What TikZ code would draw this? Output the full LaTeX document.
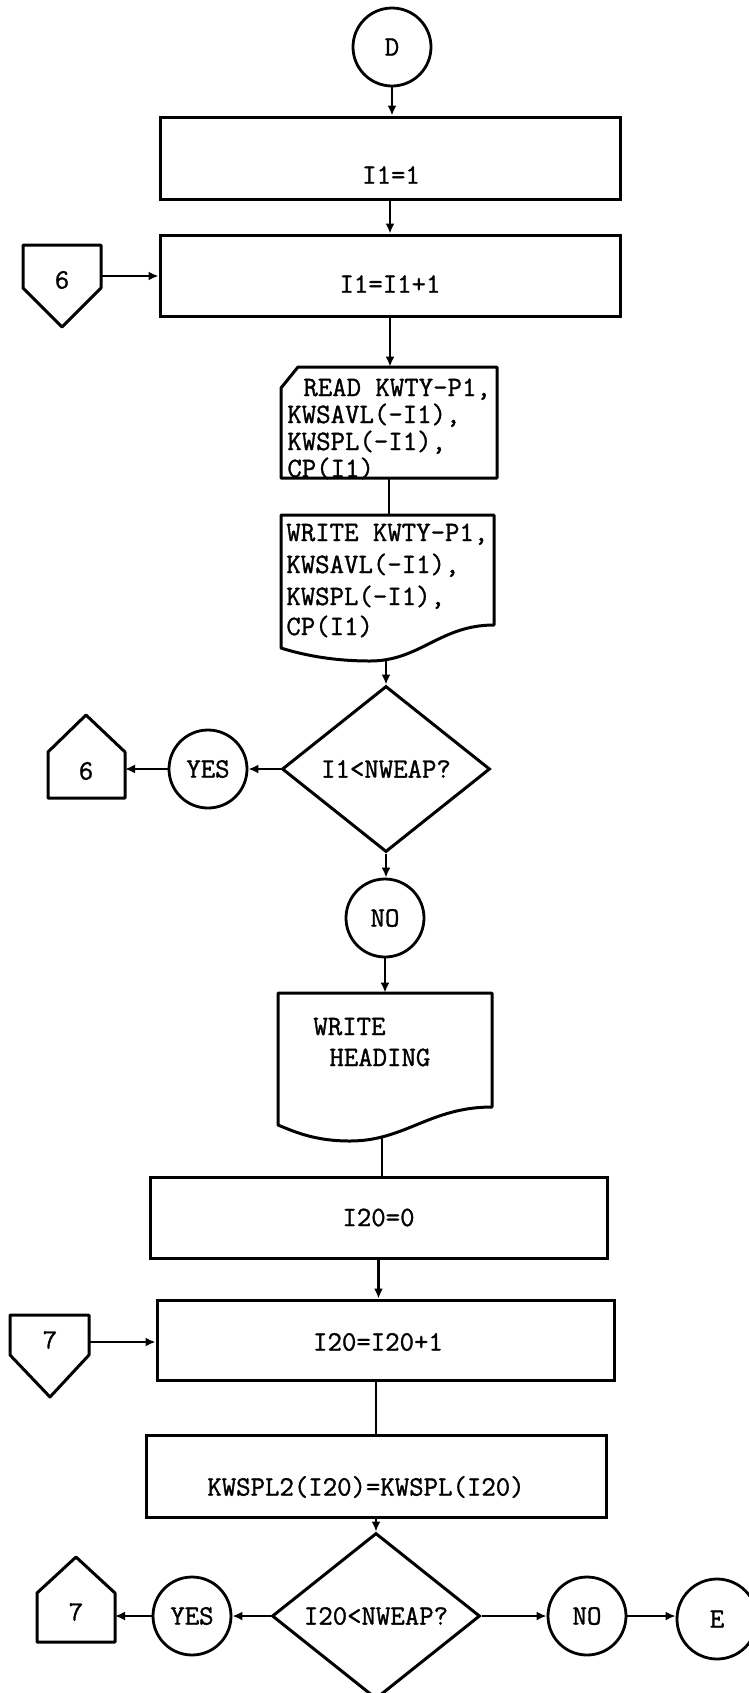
\documentclass[tikz,border=0pt]{standalone}
\usepackage{fontspec}
\newfontfamily\flowfont{Latin Modern Mono}[FakeBold=1.2]
\usetikzlibrary{arrows.meta,shapes.geometric}
\begin{document}
\begin{tikzpicture}[x=0.5pt,y=-0.5pt]
\tikzset{
  lbl/.style={font=\fontsize{14}{16}\selectfont\flowfont, inner sep=0pt},
  box/.style={draw, rectangle, line width=1.5pt, inner sep=0pt, minimum height=41pt, lbl},
  conn/.style={draw, circle, line width=1.4pt, inner sep=0pt, minimum size=39pt, lbl},
  dec/.style={draw, diamond, aspect=1.25, line width=1.5pt, inner sep=0pt, minimum width=104pt, minimum height=83pt, lbl},
  hold/.style={rectangle, inner sep=0pt},
  outline/.style={line width=1.5pt, line join=round},
  flow/.style={line width=1.4pt, -{Latex[length=5pt,width=4.5pt]}},
  plain/.style={line width=1.4pt},
}
\useasboundingbox (0,0) rectangle (749,1693);

% start connector
\node[conn] (D) at (392,47) {D};

% I1=1
\node[box, minimum width=230pt] (b1) at (390,158) {};
\node[lbl] (t1) at (391,175) {I1=1};

% I1=I1+1
\node[box, minimum width=230pt, minimum height=40.5pt] (b2) at (390,275.5) {};
\node[lbl] (t2) at (390,284) {I1=I1+1};

% off-page connector 6 (entry)
\draw[outline] (23,245) -- (101,245) -- (101,288) -- (62,327) -- (23,288) -- cycle;
\node[lbl] (p6a) at (62,280) {6};
\coordinate (p6ar) at (101,276);

% READ card
\node[hold, minimum width=108pt, minimum height=55.5pt] (rd) at (389,422.5) {};
\draw[outline] (298,367) -- (497,367) -- (497,478) -- (281,478) -- (281,388) -- cycle;
\node[lbl, anchor=base west] (rd1) at (303,396) {READ KWTY-P1,};
\node[lbl, anchor=base west] (rd2) at (287,423) {KWSAVL(-I1),};
\node[lbl, anchor=base west] (rd3) at (287,450) {KWSPL(-I1),};
\node[lbl, anchor=base west] (rd4) at (287,477) {CP(I1)};

% WRITE document
\node[hold, minimum width=106.5pt, minimum height=66.5pt] (wr) at (387.5,581.5) {};
\draw[outline] (281,580) -- (281,515) -- (494,515) -- (494,625)
  .. controls (440,625) and (420,661) .. (370,661)
  .. controls (330,661) and (300,654) .. (281,648) -- cycle;
\node[lbl, anchor=base west] (wr1) at (286,541) {WRITE KWTY-P1,};
\node[lbl, anchor=base west] (wr2) at (286,573) {KWSAVL(-I1),};
\node[lbl, anchor=base west] (wr3) at (286,605) {KWSPL(-I1),};
\node[lbl, anchor=base west] (wr4) at (286,635) {CP(I1)};
\coordinate (wrb) at (386,659);

% decision 1
\node[dec] (dec1) at (386,769) {I1<NWEAP?};
\node[conn] (yes1) at (208,769) {YES};
\draw[outline] (48,798) -- (48,752) -- (86,715) -- (125,752) -- (125,798) -- cycle;
\node[lbl] (p6b) at (86,771) {6};
\coordinate (p6br) at (125,769);
\node[conn] (no1) at (385,918) {NO};

% WRITE HEADING document
\node[hold, minimum width=107pt, minimum height=66pt] (hd) at (385,1059) {};
\draw[outline] (278,1060) -- (278,993) -- (492,993) -- (492,1107)
  .. controls (430,1107) and (405,1141) .. (350,1141)
  .. controls (315,1141) and (295,1132) .. (278,1125) -- cycle;
\node[lbl, anchor=base west] (hd1) at (313,1035) {WRITE};
\node[lbl, anchor=base west] (hd2) at (329,1066) {HEADING};
\coordinate (hdb) at (382,1138);

% I20=0
\node[box, minimum width=228.5pt, minimum height=40.5pt] (b3) at (378.5,1217.5) {I20=0};

% I20=I20+1
\node[box, minimum width=228.5pt, minimum height=40pt] (b4) at (385.5,1340) {};
\node[lbl] (t4) at (378,1342) {I20=I20+1};
\draw[outline] (10,1315) -- (89,1315) -- (89,1355) -- (50,1397) -- (10,1355) -- cycle;
\node[lbl] (p7a) at (50,1340) {7};
\coordinate (p7ar) at (89,1342);

% KWSPL2
\node[box, minimum width=230pt] (b5) at (376,1476) {};
\node[lbl] (t5) at (366,1487) {KWSPL2(I20)=KWSPL(I20)};

% decision 2
\node[dec] (dec2) at (376,1616) {I20<NWEAP?};
\node[conn] (yes2) at (192,1616) {YES};
\draw[outline] (37,1642) -- (37,1593) -- (76,1557) -- (115,1593) -- (115,1642) -- cycle;
\node[lbl] (p7b) at (76,1612) {7};
\coordinate (p7br) at (115,1616);
\node[conn] (no2) at (587,1616) {NO};
\node[conn, minimum size=40pt] (E) at (717,1619) {E};

% connectors
\draw[flow] (D.south) -- (D.south |- b1.north);
\draw[flow] (b1.south) -- (b2.north);
\draw[flow] (p6ar) -- (p6ar -| b2.west);
\draw[flow] (b2.south) -- (b2.south |- rd.north);
\draw[plain] (rd.south) -- (rd.south |- wr.north);
\draw[flow] (wrb) -- (wrb |- dec1.north);
\draw[flow] (dec1.west) -- (yes1.east);
\draw[flow] (yes1.west) -- (p6br);
\draw[flow] (dec1.south) -- (dec1.south |- no1.north);
\draw[flow] (no1.south) -- (no1.south |- hd.north);
\draw[plain] (hdb) -- (hdb |- b3.north);
\draw[flow] (b3.south) -- (b3.south |- b4.north);
\draw[flow] (p7ar) -- (p7ar -| b4.west);
\draw[plain] (b5.north |- b4.south) -- (b5.north);
\draw[flow] (b5.south) -- (dec2.north);
\draw[flow] (dec2.west) -- (yes2.east);
\draw[flow] (yes2.west) -- (p7br);
\draw[flow] (dec2.east) -- (no2.west);
\draw[flow] (no2.east) -- (no2.east -| E.west);
\end{tikzpicture}
\end{document}
